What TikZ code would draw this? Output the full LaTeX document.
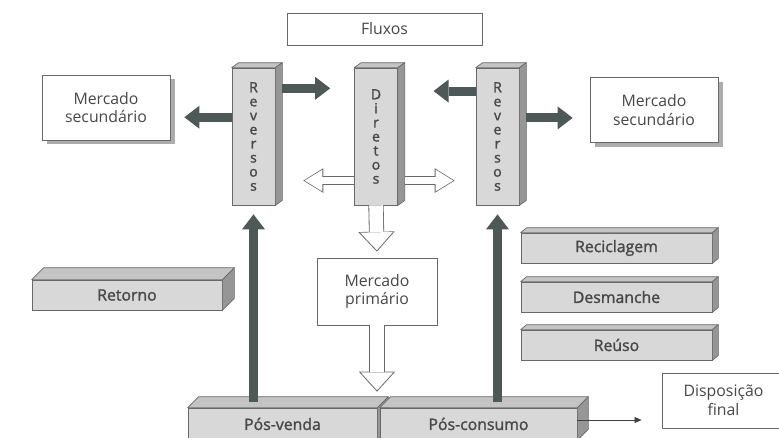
\documentclass[tikz,border=0pt]{standalone}
\usepackage{fontspec}
\setmainfont{Open Sans}
\newfontfamily\semifont[FakeBold=1.5]{Open Sans}
\usetikzlibrary{arrows.meta,calc,shadows}

\definecolor{edge}{RGB}{105,105,105}
\definecolor{frontgray}{RGB}{216,216,216}
\definecolor{topgray}{RGB}{196,196,196}
\definecolor{sidegray}{RGB}{150,150,150}
\definecolor{shadowgray}{RGB}{172,172,172}
\definecolor{darkarrow}{RGB}{78,88,86}
\definecolor{txt}{RGB}{72,72,72}

\tikzset{
    lbl/.style={text=txt, font=\fontsize{13.5}{16}\selectfont, align=center, inner sep=0pt},
    plainbox/.style={lbl, draw=edge, line width=0.6pt, fill=white},
    shadowbox/.style={plainbox, minimum width=3.84cm, minimum height=1.95cm,
        drop shadow={shadow xshift=0.15cm, shadow yshift=-0.12cm, fill=shadowgray, opacity=1}},
    block/.style={lbl, draw=edge, line width=0.6pt, fill=frontgray, font=\fontsize{13.5}{16}\semifont},
    column/.style={block, font=\fontsize{12}{12}\semifont, minimum width=1.29cm, minimum height=4.11cm},
    darkarr/.style={draw=darkarrow, line width=7.7pt, -{Triangle[width=19.6pt,length=12.8pt,line width=0pt]}},
    thinarr/.style={draw=black!75, line width=0.6pt, -{Triangle[width=5pt,length=6pt]}},
    bigout/.style={draw=edge, line width=13pt, -{Triangle[width=31pt,length=17pt,line width=0pt]}},
    bigin/.style={draw=white, line width=11.6pt, -{Triangle[width=27.8pt,length=15.3pt,line width=0pt]}},
    smallout/.style={draw=edge, line width=7pt, -{Triangle[width=21pt,length=17pt,line width=0pt]}},
    smallin/.style={draw=white, line width=5.6pt, -{Triangle[width=18.5pt,length=15pt,line width=0pt]}}
}

% top and side faces of a block: node, depth x, depth y (px)
\newcommand\faces[3]{%
    \filldraw[draw=edge, line width=0.6pt, fill=topgray, line join=round]
        (#1.north west) -- ++(#2,-#3) -- ($(#1.north east)+(#2,-#3)$) -- (#1.north east) -- cycle;
    \filldraw[draw=edge, line width=0.6pt, fill=sidegray, line join=round]
        (#1.north east) -- ($(#1.north east)+(#2,-#3)$) -- ($(#1.south east)+(#2,-#3)$) -- (#1.south east) -- cycle;}

% hollow arrow: size, from, to, shorten
\newcommand\hollow[4]{%
    \pgfmathsetlengthmacro\hollowin{#4+1.2pt}%
    \draw[#1out, shorten >=#4] (#2) -- (#3);
    \draw[#1in, shorten >=\hollowin] (#2) -- (#3);}

\begin{document}
\begin{tikzpicture}[x=0.03cm, y=-0.03cm]
    \useasboundingbox (0,0) rectangle (779,437);
    \clip (0,0) rectangle (779,437);

    \node[plainbox, minimum width=5.85cm, minimum height=0.96cm] (fluxos) at (384.5,29) {Fluxos};
    \node[shadowbox] (msecL) at (106,107.5) {Mercado\\secundário};
    \node[shadowbox] (msecR) at (654,110) {Mercado\\secundário};

    \node[column] (revL) at (253.5,136.5) {R\\e\\v\\e\\r\\s\\o\\s};
    \faces{revL}{7}{5}
    \node[column] (dir) at (376,136.5) {D\\i\\r\\e\\t\\o\\s};
    \faces{dir}{7}{5}
    \node[column] (revR) at (497.5,136.5) {R\\e\\v\\e\\r\\s\\o\\s};
    \faces{revR}{7}{5}

    \node[plainbox, minimum width=3.6cm, minimum height=2.01cm] (mprim) at (377,291.5) {Mercado\\primário};
    \node[block, minimum width=5.7cm, minimum height=0.9cm] (retorno) at (127,295) {Retorno};
    \faces{retorno}{12}{12}

    \node[block, minimum width=5.73cm, minimum height=0.9cm] (recic) at (616.5,248) {Reciclagem};
    \faces{recic}{6}{5}
    \node[block, minimum width=5.73cm, minimum height=0.9cm] (desm) at (616.5,297) {Desmanche};
    \faces{desm}{6}{5}
    \node[block, minimum width=5.73cm, minimum height=0.9cm] (reuso) at (616.5,345) {Reúso};
    \faces{reuso}{6}{5}

    \node[block, minimum width=5.67cm, minimum height=0.96cm] (posv) at (282.5,424) {Pós-venda};
    \faces{posv}{11}{11}
    \node[block, minimum width=5.91cm, minimum height=0.96cm] (poscons) at (478.5,424) {Pós-consumo};
    \faces{poscons}{11}{11}
    \node[plainbox, minimum width=3.69cm, minimum height=1.65cm] (dispo) at (723.5,400.5) {Disposição\\final};

    \coordinate (revLa) at ($(revL.north west)!0.36!(revL.south west)$);
    \coordinate (revLb) at ($(revL.north east)!0.15!(revL.south east)+(7,0)$);
    \coordinate (revRa) at ($(revR.north west)!0.17!(revR.south west)$);
    \coordinate (revRb) at ($(revR.north east)!0.365!(revR.south east)+(7,0)$);
    \draw[darkarr, shorten >=0.42cm] (revLa) -- (revLa -| msecL.east);
    \draw[darkarr, shorten >=0.72cm] (revLb) -- (revLb -| dir.west);
    \draw[darkarr, shorten >=1.07cm] (revRa) -- (revRa -| dir.east);
    \draw[darkarr, shorten >=0.51cm] (revRb) -- (revRb -| msecR.west);
    \draw[darkarr, shorten <=0.18cm, shorten >=0.27cm] (revL.south |- posv.north) -- (revL.south);
    \draw[darkarr, shorten <=0.18cm, shorten >=0.27cm] (revR.south |- poscons.north) -- (revR.south);

    \coordinate (dirl) at ($(dir.north west)!0.82!(dir.south west)$);
    \coordinate (dirr) at ($(dir.north east)!0.82!(dir.south east)+(7,0)$);
    \hollow{small}{dirl}{dirl -| revL.east}{0.84cm}
    \hollow{small}{dirr}{dirr -| revR.west}{0.63cm}
    \hollow{big}{dir.south}{mprim.north}{0.18cm}
    \hollow{big}{mprim.south}{mprim.south |- posv.north}{0.48cm}

    \coordinate (pcout) at ($(poscons.east)+(0,-4)$);
    \draw[thinarr, shorten >=0.6cm] (pcout) -- (pcout -| dispo.west);
\end{tikzpicture}
\end{document}
